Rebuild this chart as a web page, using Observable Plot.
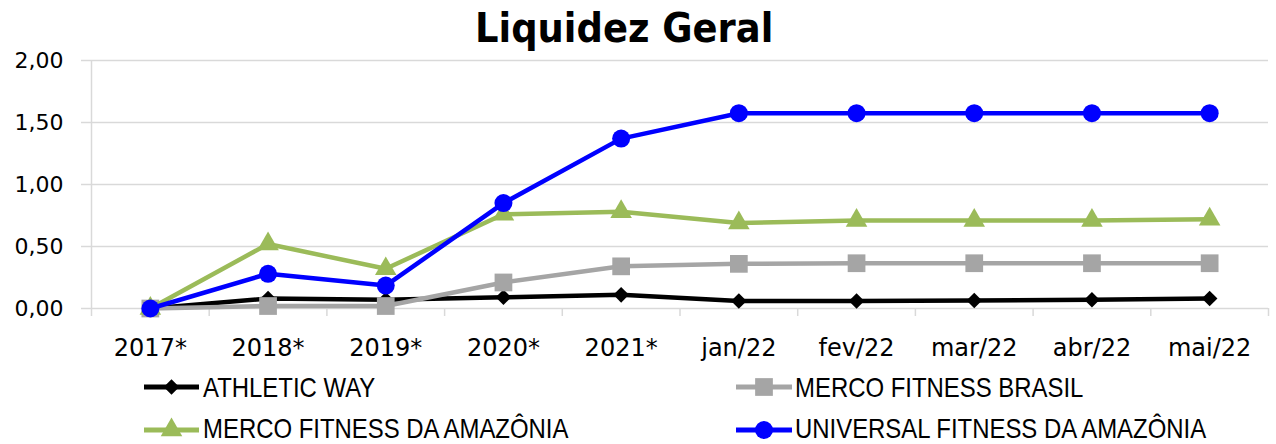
<!DOCTYPE html>
<html><head><meta charset="utf-8">
<script src="https://cdn.jsdelivr.net/npm/d3@7"></script>
<script src="https://cdn.jsdelivr.net/npm/@observablehq/plot@0.6"></script>
<style>
body{margin:0;background:#fff;}
#wrap{position:relative;width:1276px;height:444px;overflow:hidden;background:#fff;}
#title{position:absolute;top:8px;left:475px;font:bold 41px "DejaVu Sans";line-height:1;transform-origin:0 0;transform:scaleX(0.9);white-space:nowrap;color:#000;z-index:2;}
#chart{position:absolute;top:0;left:0;z-index:1;}
#legend{position:absolute;top:360px;left:0;z-index:3;}
</style></head><body>
<div id="wrap"><div id="chart"></div><div id="title">Liquidez Geral</div><svg id="legend" width="1276" height="84"></svg></div>
<script>
const categories = ["2017*","2018*","2019*","2020*","2021*","jan/22","fev/22","mar/22","abr/22","mai/22"];
const seriesNames = ["ATHLETIC WAY","MERCO FITNESS BRASIL","MERCO FITNESS DA AMAZÔNIA","UNIVERSAL FITNESS DA AMAZÔNIA"];
const athleticWay   = [0.00, 0.08, 0.07, 0.09, 0.11, 0.06, 0.06, 0.065, 0.07, 0.08];
const mercoBrasil   = [0.00, 0.02, 0.02, 0.21, 0.34, 0.36, 0.365, 0.365, 0.365, 0.365];
const mercoAmazonia = [0.00, 0.52, 0.32, 0.76, 0.78, 0.69, 0.71, 0.71, 0.71, 0.72];
const universal     = [0.00, 0.28, 0.185, 0.85, 1.37, 1.575, 1.575, 1.575, 1.575, 1.575];
const yTicks = [0, 0.5, 1, 1.5, 2];
const colors = ["#000000", "#a5a5a5", "#9bbb59", "#0000ff"];
const symbols = ["diamond2", "square", "triangle", "circle"];
const radii = [7, 10, 8, 9];

const seriesValues = [athleticWay, mercoBrasil, mercoAmazonia, universal];
const rows = [];
seriesValues.forEach((vals, s) => vals.forEach((v, i) => rows.push({series: seriesNames[s], s, i, v})));

const marks = [
  Plot.gridY(yTicks, {stroke: "#d9d9d9", strokeOpacity: 1, strokeWidth: 1.5}),
  Plot.ruleX([-0.5], {stroke: "#d9d9d9", strokeWidth: 1.5}),
  Plot.axisY(yTicks, {tickSize: 10, tickPadding: 18, stroke: "#d9d9d9", strokeWidth: 1.5, fill: "#000", fontSize: 22,
    tickFormat: d => d.toFixed(2).replace(".", ","), label: null}),
  Plot.axisX(d3.range(-0.5, 10, 1), {tickSize: 8, stroke: "#d9d9d9", strokeWidth: 1.5, tickFormat: () => "", label: null}),
  Plot.axisX(d3.range(10), {tickSize: 0, tickPadding: 30, fontSize: 24, fill: "#000", tickFormat: i => categories[i], label: null})
];
seriesNames.forEach((name, s) => {
  const d = rows.filter(r => r.s === s);
  marks.push(Plot.line(d, {x: "i", y: "v", stroke: colors[s], strokeWidth: 4.5}));
  marks.push(Plot.dot(d, {x: "i", y: "v", symbol: symbols[s], r: radii[s], fill: colors[s], stroke: "none"}));
});

const chart = Plot.plot({
  width: 1276, height: 372,
  marginTop: 60, marginBottom: 64, marginLeft: 91, marginRight: 8,
  style: {fontFamily: "DejaVu Sans", color: "#000", background: "transparent"},
  x: {type: "linear", domain: [-0.5, 9.5], label: null},
  y: {domain: [0, 2], label: null},
  marks
});
document.getElementById("chart").appendChild(chart);

// legend
const legend = d3.select("#legend");
const symTypes = [d3.symbolDiamond2, d3.symbolSquare, d3.symbolTriangle, d3.symbolCircle];
const cols = [{x0: 144, x1: 199, tx: 203}, {x0: 736, x1: 792, tx: 795}];
const rowY = [27, 70];
const rowBase = [37, 78];
seriesNames.forEach((name, s) => {
  const c = cols[s % 2], r = Math.floor(s / 2);
  const g = legend.append("g");
  g.append("line").attr("x1", c.x0).attr("x2", c.x1).attr("y1", rowY[r]).attr("y2", rowY[r])
    .attr("stroke", colors[s]).attr("stroke-width", 5);
  g.append("path").attr("d", d3.symbol(symTypes[s], Math.PI * radii[s] * radii[s])())
    .attr("transform", `translate(${(c.x0 + c.x1) / 2},${rowY[r]})`).attr("fill", colors[s]);
  g.append("text").text(name).attr("transform", `translate(${c.tx},${rowBase[r]}) scale(0.87,1)`)
    .attr("font-family", "Liberation Sans").attr("font-size", 27.5).attr("fill", "#000");
});
</script>
</body></html>
